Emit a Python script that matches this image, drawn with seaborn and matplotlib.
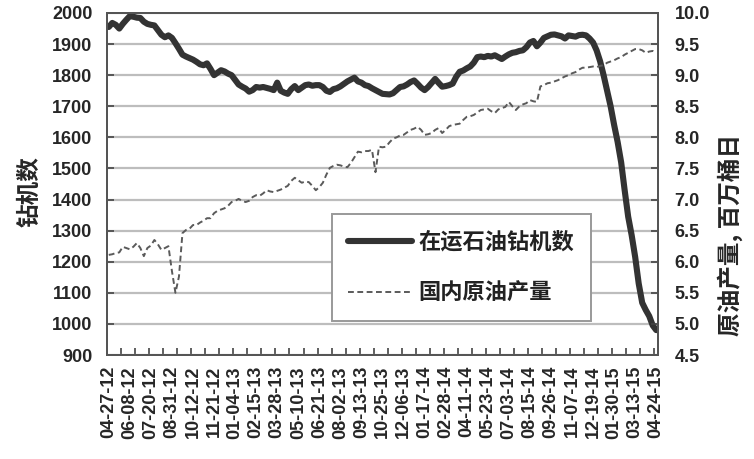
import numpy as np
import pandas as pd
import matplotlib
matplotlib.use('Agg')
import matplotlib.pyplot as plt
from matplotlib.ticker import FixedLocator, FuncFormatter
import seaborn as sns

# ---------------- data ----------------
date_labels = ["04-27-12", "06-08-12", "07-20-12", "08-31-12", "10-12-12", "11-21-12",
               "01-04-13", "02-15-13", "03-28-13", "05-10-13", "06-21-13", "08-02-13",
               "09-13-13", "10-25-13", "12-06-13", "01-17-14", "02-28-14", "04-11-14",
               "05-23-14", "07-03-14", "08-15-14", "09-26-14", "11-07-14", "12-19-14",
               "01-30-15", "03-13-15", "04-24-15"]

rig_count = [1955, 1968, 1962, 1950, 1965, 1978, 1990, 1988, 1985, 1984,
             1972, 1965, 1962, 1960, 1945, 1930, 1922, 1928, 1920, 1903,
             1885, 1866, 1860, 1855, 1850, 1843, 1835, 1832, 1838, 1820,
             1800, 1808, 1816, 1812, 1805, 1800, 1785, 1770, 1763, 1757,
             1747, 1752, 1762, 1760, 1762, 1759, 1756, 1752, 1776, 1750,
             1744, 1740, 1755, 1765, 1752, 1760, 1768, 1770, 1766, 1768,
             1768, 1762, 1750, 1746, 1755, 1758, 1764, 1772, 1780, 1786,
             1792, 1780, 1776, 1768, 1765, 1758, 1752, 1746, 1740, 1739,
             1738, 1742, 1752, 1762, 1764, 1770, 1778, 1783, 1772, 1760,
             1752, 1762, 1775, 1788, 1775, 1763, 1765, 1768, 1773, 1795,
             1811, 1815, 1822, 1828, 1840, 1858, 1860, 1858, 1862, 1860,
             1864, 1858, 1852, 1860, 1867, 1872, 1874, 1878, 1880, 1890,
             1905, 1910, 1893, 1905, 1920, 1925, 1930, 1931, 1928, 1925,
             1918, 1928, 1926, 1924, 1929, 1930, 1928, 1918, 1905, 1880,
             1845, 1800, 1750, 1700, 1640, 1585, 1520, 1430, 1345, 1285,
             1215, 1130, 1068, 1045, 1025, 995, 980]

oil_output = [6.11, 6.12, 6.14, 6.15, 6.24, 6.22, 6.20, 6.24, 6.30, 6.22,
              6.09, 6.22, 6.26, 6.35, 6.28, 6.19, 6.22, 6.25, 5.85, 5.50,
              5.76, 6.46, 6.51, 6.53, 6.59, 6.59, 6.63, 6.66, 6.70, 6.70,
              6.78, 6.82, 6.84, 6.86, 6.90, 6.96, 6.98, 7.01, 6.98, 6.96,
              6.98, 7.04, 7.07, 7.06, 7.10, 7.15, 7.13, 7.12, 7.14, 7.16,
              7.19, 7.22, 7.30, 7.35, 7.31, 7.27, 7.29, 7.28, 7.22, 7.15,
              7.20, 7.27, 7.40, 7.51, 7.54, 7.56, 7.55, 7.53, 7.52, 7.59,
              7.68, 7.77, 7.76, 7.78, 7.78, 7.80, 7.44, 7.85, 7.84, 7.85,
              7.92, 7.98, 8.00, 8.03, 8.04, 8.08, 8.12, 8.14, 8.17, 8.12,
              8.04, 8.05, 8.07, 8.12, 8.15, 8.07, 8.12, 8.18, 8.20, 8.21,
              8.22, 8.28, 8.33, 8.34, 8.36, 8.40, 8.44, 8.45, 8.46, 8.42,
              8.39, 8.45, 8.47, 8.49, 8.57, 8.50, 8.44, 8.50, 8.53, 8.55,
              8.60, 8.58, 8.57, 8.82, 8.84, 8.87, 8.88, 8.90, 8.92, 8.95,
              8.98, 9.00, 9.03, 9.05, 9.09, 9.12, 9.12, 9.13, 9.14, 9.13,
              9.15, 9.16, 9.20, 9.22, 9.24, 9.27, 9.29, 9.33, 9.36, 9.39,
              9.42, 9.42, 9.40, 9.36, 9.38, 9.39, 9.36]

rig_label = "在运石油钻机数"
oil_label = "国内原油产量"
left_title = "钻机数"
right_title = "原油产量, 百万桶日"

# ---------------- style ----------------
sns.set_theme(style="white")
plt.rcParams['font.family'] = ['Liberation Sans', 'Noto Sans CJK SC', 'DejaVu Sans']
plt.rcParams['axes.unicode_minus'] = False

n = len(rig_count)
df = pd.DataFrame({"week": np.arange(n), "rigs": rig_count, "output": oil_output})

fig = plt.figure(figsize=(7.54, 4.59), dpi=100)
ax = fig.add_axes([107 / 754, 1 - 355 / 459, 551 / 754, 342 / 459])
ax2 = ax.twinx()

sns.lineplot(data=df, x="week", y="rigs", ax=ax, color="#333333", linewidth=4.4,
             label=rig_label, legend=False, solid_capstyle="round", zorder=3)
sns.lineplot(data=df, x="week", y="output", ax=ax2, color="#5a5a5a", linewidth=1.4,
             linestyle=(0, (3, 1.8)), label=oil_label, legend=False, zorder=3)

# axes limits / ticks
ax.set_xlim(-0.5, n - 0.5)
ax.set_ylim(900, 2000)
ax.set_yticks(np.arange(900, 2001, 100))
ax2.set_ylim(4.5, 10.0)
ax2.set_yticks(np.arange(4.5, 10.01, 0.5))
ax2.yaxis.set_major_formatter(FuncFormatter(lambda v, p: f"{v:.1f}"))

label_pos = np.arange(0, n, 6)
ax.set_xticks(label_pos)
ax.set_xticklabels(date_labels, rotation=90)
ax.xaxis.set_minor_locator(FixedLocator(np.arange(3.5, n, 4)))

ax.tick_params(axis='x', which='major', length=0, pad=8, labelsize=13, labelcolor="#262626")
ax.tick_params(axis='x', which='minor', direction='in', length=5, width=1.2,
               color="#444444", bottom=True)
ax.tick_params(axis='y', which='major', direction='in', length=5, width=1.2, color="#444444",
               pad=10.5, labelsize=13, labelcolor="#262626", left=True)
ax2.tick_params(axis='y', which='major', direction='in', length=5, width=1.2, color="#444444",
                pad=12, labelsize=13, labelcolor="#262626", right=True)
for lab in ax.get_xticklabels() + ax.get_yticklabels() + ax2.get_yticklabels():
    lab.set_fontweight('bold')

ax.yaxis.grid(True, color="#bdbdbd", linewidth=1.6)
ax.xaxis.grid(False)
ax.set_axisbelow(True)

for a in (ax, ax2):
    for s in a.spines.values():
        s.set_visible(True)
        s.set_color("#555555")
        s.set_linewidth(1.4)

ax.set_xlabel("")
ax.set_ylabel(left_title, fontfamily="Noto Sans CJK SC", fontsize=17, fontweight="bold",
              color="#262626")
ax.yaxis.set_label_coords(-0.118, 0.477)
ax2.set_ylabel(right_title, fontfamily="Noto Sans CJK SC", fontsize=17, fontweight="bold",
               color="#262626")
ax2.yaxis.set_label_coords(1.107, 0.351)

# legend
h1, l1 = ax.get_legend_handles_labels()
h2, l2 = ax2.get_legend_handles_labels()
leg = ax2.legend(h1 + h2, l1 + l2, loc="upper left", bbox_to_anchor=(0.408, 0.412),
                 bbox_transform=ax.transAxes, borderaxespad=0, frameon=True,
                 fancybox=False, framealpha=1, edgecolor="#999999", borderpad=0.75,
                 labelspacing=1.25, handlelength=2.85, handletextpad=0.3,
                 prop=dict(family="Noto Sans CJK SC", weight="bold", size=16))
leg.get_frame().set_linewidth(1.4)
for t in leg.get_texts():
    t.set_color("#222222")
leg.set_zorder(10)

fig.savefig("out.png", dpi=100)
